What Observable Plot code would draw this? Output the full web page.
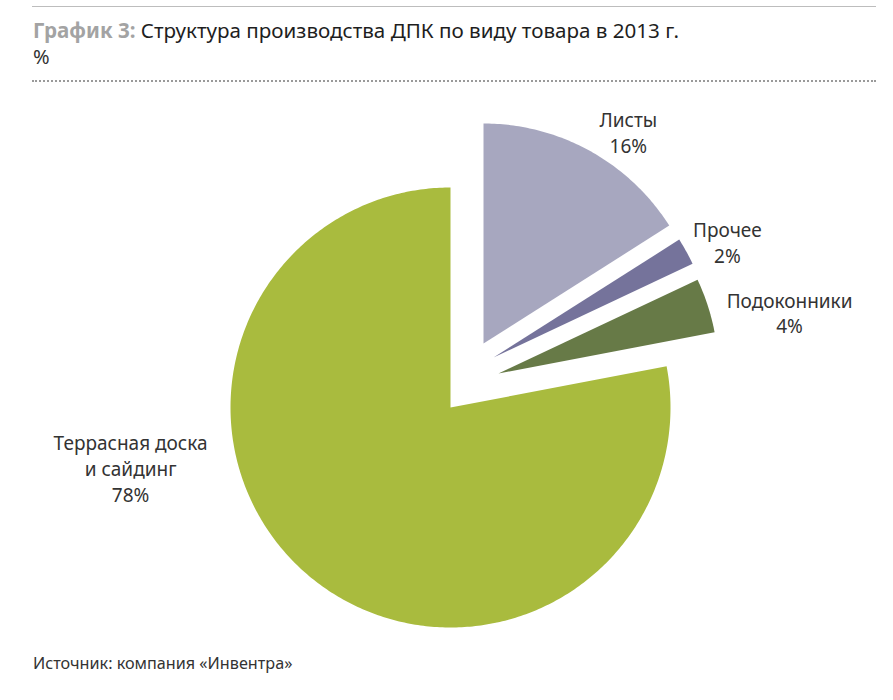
<!DOCTYPE html>
<html><head><meta charset="utf-8">
<script src="https://cdn.jsdelivr.net/npm/d3@7"></script>
<script src="https://cdn.jsdelivr.net/npm/@observablehq/plot@0.6"></script>
<style>
body{margin:0;background:#fff;width:893px;height:700px;position:relative;overflow:hidden;font-family:"Noto Sans",sans-serif;}
#topline{position:absolute;left:32px;top:6px;width:844px;height:0;border-top:1.5px solid #bdbdbd;}
#title{position:absolute;left:33px;top:16px;font-size:20.6px;color:#1e1e1e;white-space:nowrap;}
#title b{color:#a3a3a3;}
#unit{position:absolute;left:33px;top:43px;font-size:20px;color:#333;}
#dots{position:absolute;left:32px;top:80px;width:844px;height:0;border-top:2px dotted #9a9a9a;}
#chart{position:absolute;left:0;top:90px;}
#source{position:absolute;left:33px;top:652px;font-size:16.2px;color:#333;white-space:nowrap;}
</style>
</head><body>
<div id="topline"></div>
<div id="title"><b>График 3:</b> Структура производства ДПК по виду товара в 2013 г.</div>
<div id="unit">%</div>
<div id="dots"></div>
<div id="chart"></div>
<div id="source">Источник: компания «Инвентра»</div>
<script>
// ---- data ----
const categories = ["Листы", "Прочее", "Подоконники", "Террасная доска\nи сайдинг"];
const values = [16, 2, 4, 78];
const valueLabels = ["16%", "2%", "4%", "78%"];
const colors = ["#a7a7bf", "#75739b", "#677a47", "#a9bb3e"];

// ---- layout (styling) ----
const W = 893, H = 560;
const Rpx = 220;            // pie radius in px
const cx = 450, cy = 317;   // pie centre in svg px
const explodePx = [[33, -64], [43, -50], [48, -34], [0, 0]]; // slice offsets (px, screen)
const labelPolar = [[34.4, 1.165], [63.7, 1.186], [78.1, 1.352], [259.3, 1.48]]; // deg, radius units from slice apex

const pie = d3.pie().sort(null).value(d => d)(values);

const slicePts = [];
const labelData = [];
pie.forEach((p, i) => {
  const ox = explodePx[i][0] / Rpx, oy = -explodePx[i][1] / Rpx;
  const name = categories[i];
  slicePts.push({name, x: ox, y: oy});
  const n = Math.max(8, Math.ceil((p.endAngle - p.startAngle) * 80));
  for (let k = 0; k <= n; k++) {
    const a = p.startAngle + (p.endAngle - p.startAngle) * k / n;
    slicePts.push({name, x: ox + Math.sin(a), y: oy + Math.cos(a)});
  }
  const la = labelPolar[i][0] * Math.PI / 180, lr = labelPolar[i][1];
  labelData.push({name, x: ox + lr * Math.sin(la), y: oy + lr * Math.cos(la), text: name + "\n" + valueLabels[i]});
});

const chart = Plot.plot({
  width: W, height: H, margin: 0,
  style: {background: "transparent", fontFamily: "'Noto Sans', sans-serif"},
  x: {domain: [-cx / Rpx, (W - cx) / Rpx], axis: null},
  y: {domain: [-(H - cy) / Rpx, cy / Rpx], axis: null},
  color: {domain: categories, range: colors},
  marks: [
    Plot.line(slicePts, {x: "x", y: "y", z: "name", fill: "name", stroke: "none", curve: "linear"}),
    Plot.text(labelData, {x: "x", y: "y", text: "text", fontSize: 19, lineHeight: 1.36, fill: "#333", textAnchor: "middle"})
  ]
});
document.getElementById("chart").appendChild(chart);
</script>
</body></html>
